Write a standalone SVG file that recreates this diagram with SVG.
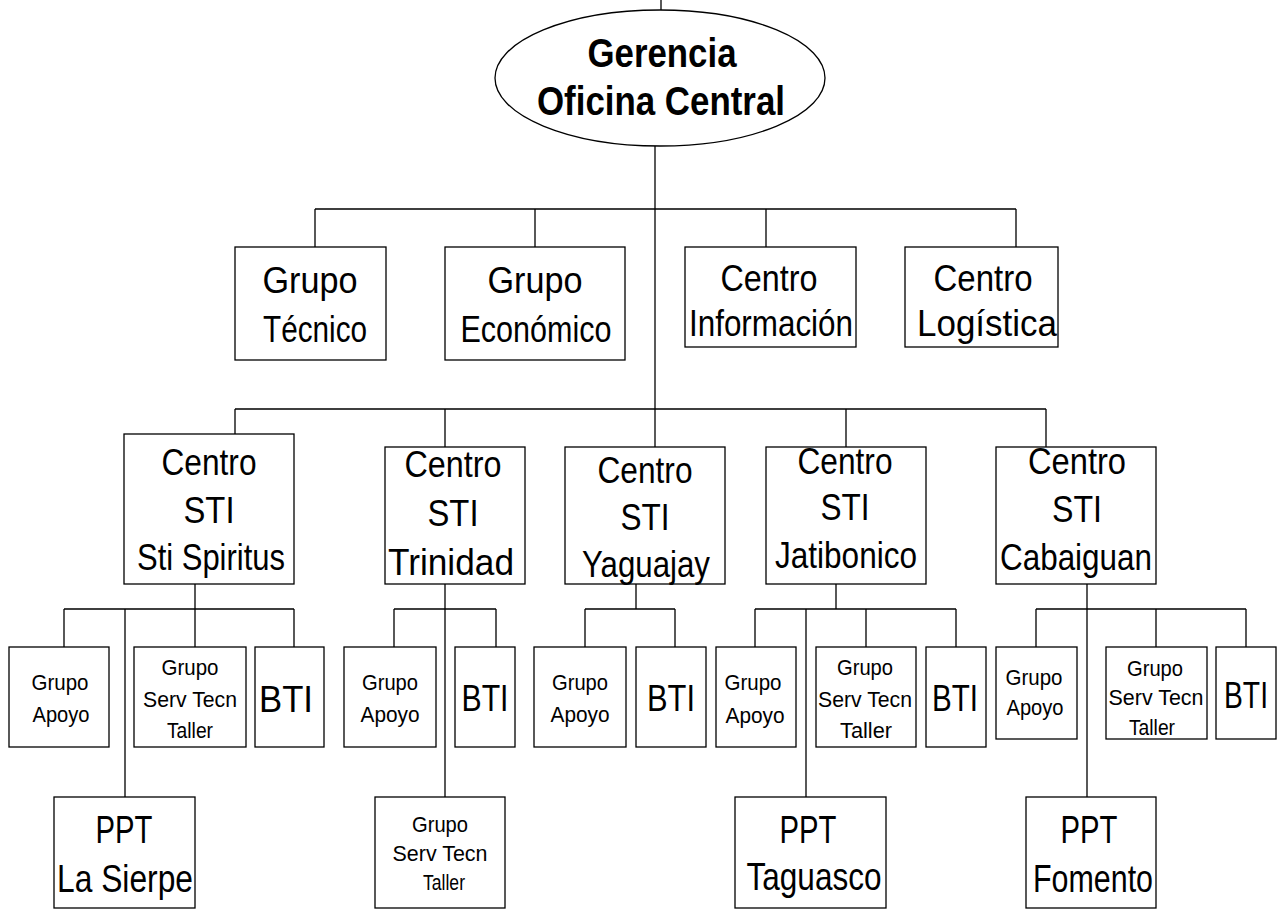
<svg xmlns="http://www.w3.org/2000/svg" width="1277" height="910" viewBox="0 0 1277 910">
  <style>
    .box { fill: #fff; stroke: #000; stroke-width: 1.3; }
    .wire { fill: none; stroke: #000; stroke-width: 1.3; }
    text { font-family: "Liberation Sans Narrow", "Liberation Sans", Arial, sans-serif; fill: #000; text-anchor: middle; }
    .head { font-size: 41px; font-weight: bold; }
    .big { font-size: 37px; }
    .mid { font-size: 36px; }
    .ppt { font-size: 39px; }
    .sm { font-size: 22.5px; }
    .bti { font-size: 36px; }
  </style>
  <rect width="1277" height="910" fill="#fff"/>

  <!-- connectors -->
  <g id="connectors" class="wire">
    <!-- top level -->
    <path d="M661 0V10"/>
    <path d="M655 146V447"/>
    <path d="M315 209H1016M315 209V247M535 209V247M766 209V247M1016 209V247"/>
    <!-- centres STI -->
    <path d="M235 409H1046M235 409V445M445 409V447M846 409V447M1046 409V447"/>
    <!-- Sti Spiritus -->
    <path d="M195 584V647M64 609H294M64 609V647M294 609V647M125 609V797"/>
    <!-- Trinidad -->
    <path d="M445 584V797M394 609H496M394 609V647M496 609V647"/>
    <!-- Yaguajay -->
    <path d="M636 584V609M585 609H675M585 609V647M675 609V647"/>
    <!-- Jatibonico -->
    <path d="M836 584V609M755 609H956M755 609V647M866 609V647M956 609V647M806 609V797"/>
    <!-- Cabaiguan -->
    <path d="M1087 584V797M1036 609H1246M1036 609V647M1156 609V647M1246 609V647"/>
  </g>

  <g id="gerencia">
    <ellipse cx="660" cy="78" rx="165" ry="68" fill="#fff" stroke="#000" stroke-width="1.3"/>
    <text class="head" x="662" y="67" textLength="149" lengthAdjust="spacingAndGlyphs">Gerencia</text>
    <text class="head" x="661" y="115" textLength="248" lengthAdjust="spacingAndGlyphs">Oficina Central</text>
  </g>

  <g id="grupo-tecnico">
    <rect class="box" x="235" y="247" width="151" height="113"/>
    <text class="big" x="310" y="293" textLength="95" lengthAdjust="spacingAndGlyphs">Grupo</text>
    <text class="big" x="315" y="342" textLength="104" lengthAdjust="spacingAndGlyphs">Técnico</text>
  </g>
  <g id="grupo-economico">
    <rect class="box" x="445" y="247" width="180" height="113"/>
    <text class="big" x="535" y="293" textLength="95" lengthAdjust="spacingAndGlyphs">Grupo</text>
    <text class="big" x="536" y="342" textLength="151" lengthAdjust="spacingAndGlyphs">Económico</text>
  </g>
  <g id="centro-informacion">
    <rect class="box" x="685" y="247" width="171" height="100"/>
    <text class="big" x="769" y="291" textLength="97" lengthAdjust="spacingAndGlyphs">Centro</text>
    <text class="big" x="771" y="336" textLength="164" lengthAdjust="spacingAndGlyphs">Información</text>
  </g>
  <g id="centro-logistica">
    <rect class="box" x="905" y="247" width="153" height="100"/>
    <text class="big" x="983" y="291" textLength="99" lengthAdjust="spacingAndGlyphs">Centro</text>
    <text class="big" x="987" y="336" textLength="140" lengthAdjust="spacingAndGlyphs">Logística</text>
  </g>

  <g id="sti-spiritus">
    <rect class="box" x="124" y="434" width="170" height="150"/>
    <text class="mid" x="209" y="475" textLength="95" lengthAdjust="spacingAndGlyphs">Centro</text>
    <text class="mid" x="209" y="523" textLength="51" lengthAdjust="spacingAndGlyphs">STI</text>
    <text class="mid" x="211" y="570" textLength="148" lengthAdjust="spacingAndGlyphs">Sti Spiritus</text>
  </g>
  <g id="sti-trinidad">
    <rect class="box" x="385" y="447" width="140" height="137"/>
    <text class="mid" x="453" y="477" textLength="97" lengthAdjust="spacingAndGlyphs">Centro</text>
    <text class="mid" x="453" y="526" textLength="51" lengthAdjust="spacingAndGlyphs">STI</text>
    <text class="mid" x="451" y="575" textLength="126" lengthAdjust="spacingAndGlyphs">Trinidad</text>
  </g>
  <g id="sti-yaguajay">
    <rect class="box" x="565" y="447" width="160" height="137"/>
    <text class="mid" x="645" y="483" textLength="95" lengthAdjust="spacingAndGlyphs">Centro</text>
    <text class="mid" x="645" y="530" textLength="49" lengthAdjust="spacingAndGlyphs">STI</text>
    <text class="mid" x="646" y="577" textLength="128" lengthAdjust="spacingAndGlyphs">Yaguajay</text>
  </g>
  <g id="sti-jatibonico">
    <rect class="box" x="766" y="447" width="160" height="137"/>
    <text class="mid" x="845" y="474" textLength="95" lengthAdjust="spacingAndGlyphs">Centro</text>
    <text class="mid" x="845" y="520" textLength="49" lengthAdjust="spacingAndGlyphs">STI</text>
    <text class="mid" x="846" y="568" textLength="142" lengthAdjust="spacingAndGlyphs">Jatibonico</text>
  </g>
  <g id="sti-cabaiguan">
    <rect class="box" x="996" y="447" width="160" height="137"/>
    <text class="mid" x="1077" y="474" textLength="98" lengthAdjust="spacingAndGlyphs">Centro</text>
    <text class="mid" x="1077" y="522" textLength="50" lengthAdjust="spacingAndGlyphs">STI</text>
    <text class="mid" x="1076" y="570" textLength="152" lengthAdjust="spacingAndGlyphs">Cabaiguan</text>
  </g>

  <!-- Sti Spiritus units -->
  <g id="spiritus-apoyo">
    <rect class="box" x="9" y="647" width="100" height="100"/>
    <text class="sm" x="60" y="690" textLength="57" lengthAdjust="spacingAndGlyphs">Grupo</text>
    <text class="sm" x="61" y="722" textLength="57" lengthAdjust="spacingAndGlyphs">Apoyo</text>
  </g>
  <g id="spiritus-taller">
    <rect class="box" x="134" y="647" width="112" height="100"/>
    <text class="sm" x="190" y="675" textLength="57" lengthAdjust="spacingAndGlyphs">Grupo</text>
    <text class="sm" x="190" y="707" textLength="94" lengthAdjust="spacingAndGlyphs">Serv Tecn</text>
    <text class="sm" x="190" y="738" textLength="46" lengthAdjust="spacingAndGlyphs">Taller</text>
  </g>
  <g id="spiritus-bti">
    <rect class="box" x="255" y="647" width="69" height="100"/>
    <text class="bti" x="286" y="712" textLength="54" lengthAdjust="spacingAndGlyphs">BTI</text>
  </g>
  <g id="ppt-la-sierpe">
    <rect class="box" x="54" y="797" width="141" height="111"/>
    <text class="ppt" x="124" y="843" textLength="57" lengthAdjust="spacingAndGlyphs">PPT</text>
    <text class="ppt" x="125" y="892" textLength="136" lengthAdjust="spacingAndGlyphs">La Sierpe</text>
  </g>

  <!-- Trinidad units -->
  <g id="trinidad-apoyo">
    <rect class="box" x="344" y="647" width="92" height="100"/>
    <text class="sm" x="390" y="690" textLength="56" lengthAdjust="spacingAndGlyphs">Grupo</text>
    <text class="sm" x="390" y="722" textLength="59" lengthAdjust="spacingAndGlyphs">Apoyo</text>
  </g>
  <g id="trinidad-bti">
    <rect class="box" x="455" y="647" width="60" height="100"/>
    <text class="bti" x="485" y="711" textLength="47" lengthAdjust="spacingAndGlyphs">BTI</text>
  </g>
  <g id="trinidad-taller">
    <rect class="box" x="375" y="797" width="130" height="111"/>
    <text class="sm" x="440" y="832" textLength="56" lengthAdjust="spacingAndGlyphs">Grupo</text>
    <text class="sm" x="440" y="861" textLength="95" lengthAdjust="spacingAndGlyphs">Serv Tecn</text>
    <text class="sm" x="444" y="890" textLength="42" lengthAdjust="spacingAndGlyphs">Taller</text>
  </g>

  <!-- Yaguajay units -->
  <g id="yaguajay-apoyo">
    <rect class="box" x="534" y="647" width="92" height="100"/>
    <text class="sm" x="580" y="690" textLength="56" lengthAdjust="spacingAndGlyphs">Grupo</text>
    <text class="sm" x="580" y="722" textLength="59" lengthAdjust="spacingAndGlyphs">Apoyo</text>
  </g>
  <g id="yaguajay-bti">
    <rect class="box" x="636" y="647" width="70" height="100"/>
    <text class="bti" x="671" y="711" textLength="48" lengthAdjust="spacingAndGlyphs">BTI</text>
  </g>

  <!-- Jatibonico units -->
  <g id="jatibonico-apoyo">
    <rect class="box" x="716" y="647" width="80" height="100"/>
    <text class="sm" x="753" y="690" textLength="57" lengthAdjust="spacingAndGlyphs">Grupo</text>
    <text class="sm" x="755" y="723" textLength="59" lengthAdjust="spacingAndGlyphs">Apoyo</text>
  </g>
  <g id="jatibonico-taller">
    <rect class="box" x="816" y="647" width="100" height="100"/>
    <text class="sm" x="865" y="675" textLength="56" lengthAdjust="spacingAndGlyphs">Grupo</text>
    <text class="sm" x="865" y="707" textLength="94" lengthAdjust="spacingAndGlyphs">Serv Tecn</text>
    <text class="sm" x="866" y="738" textLength="52" lengthAdjust="spacingAndGlyphs">Taller</text>
  </g>
  <g id="jatibonico-bti">
    <rect class="box" x="926" y="647" width="60" height="100"/>
    <text class="bti" x="955" y="711" textLength="46" lengthAdjust="spacingAndGlyphs">BTI</text>
  </g>
  <g id="ppt-taguasco">
    <rect class="box" x="735" y="797" width="151" height="111"/>
    <text class="ppt" x="808" y="843" textLength="57" lengthAdjust="spacingAndGlyphs">PPT</text>
    <text class="ppt" x="814" y="890" textLength="135" lengthAdjust="spacingAndGlyphs">Taguasco</text>
  </g>

  <!-- Cabaiguan units -->
  <g id="cabaiguan-apoyo">
    <rect class="box" x="996" y="647" width="81" height="92"/>
    <text class="sm" x="1034" y="685" textLength="57" lengthAdjust="spacingAndGlyphs">Grupo</text>
    <text class="sm" x="1035" y="715" textLength="57" lengthAdjust="spacingAndGlyphs">Apoyo</text>
  </g>
  <g id="cabaiguan-taller">
    <rect class="box" x="1106" y="647" width="101" height="92"/>
    <text class="sm" x="1155" y="676" textLength="56" lengthAdjust="spacingAndGlyphs">Grupo</text>
    <text class="sm" x="1156" y="705" textLength="95" lengthAdjust="spacingAndGlyphs">Serv Tecn</text>
    <text class="sm" x="1152" y="735" textLength="46" lengthAdjust="spacingAndGlyphs">Taller</text>
  </g>
  <g id="cabaiguan-bti">
    <rect class="box" x="1216" y="647" width="60" height="92"/>
    <text class="bti" x="1246" y="708" textLength="44" lengthAdjust="spacingAndGlyphs">BTI</text>
  </g>
  <g id="ppt-fomento">
    <rect class="box" x="1026" y="797" width="130" height="111"/>
    <text class="ppt" x="1089" y="843" textLength="57" lengthAdjust="spacingAndGlyphs">PPT</text>
    <text class="ppt" x="1093" y="892" textLength="120" lengthAdjust="spacingAndGlyphs">Fomento</text>
  </g>
</svg>
